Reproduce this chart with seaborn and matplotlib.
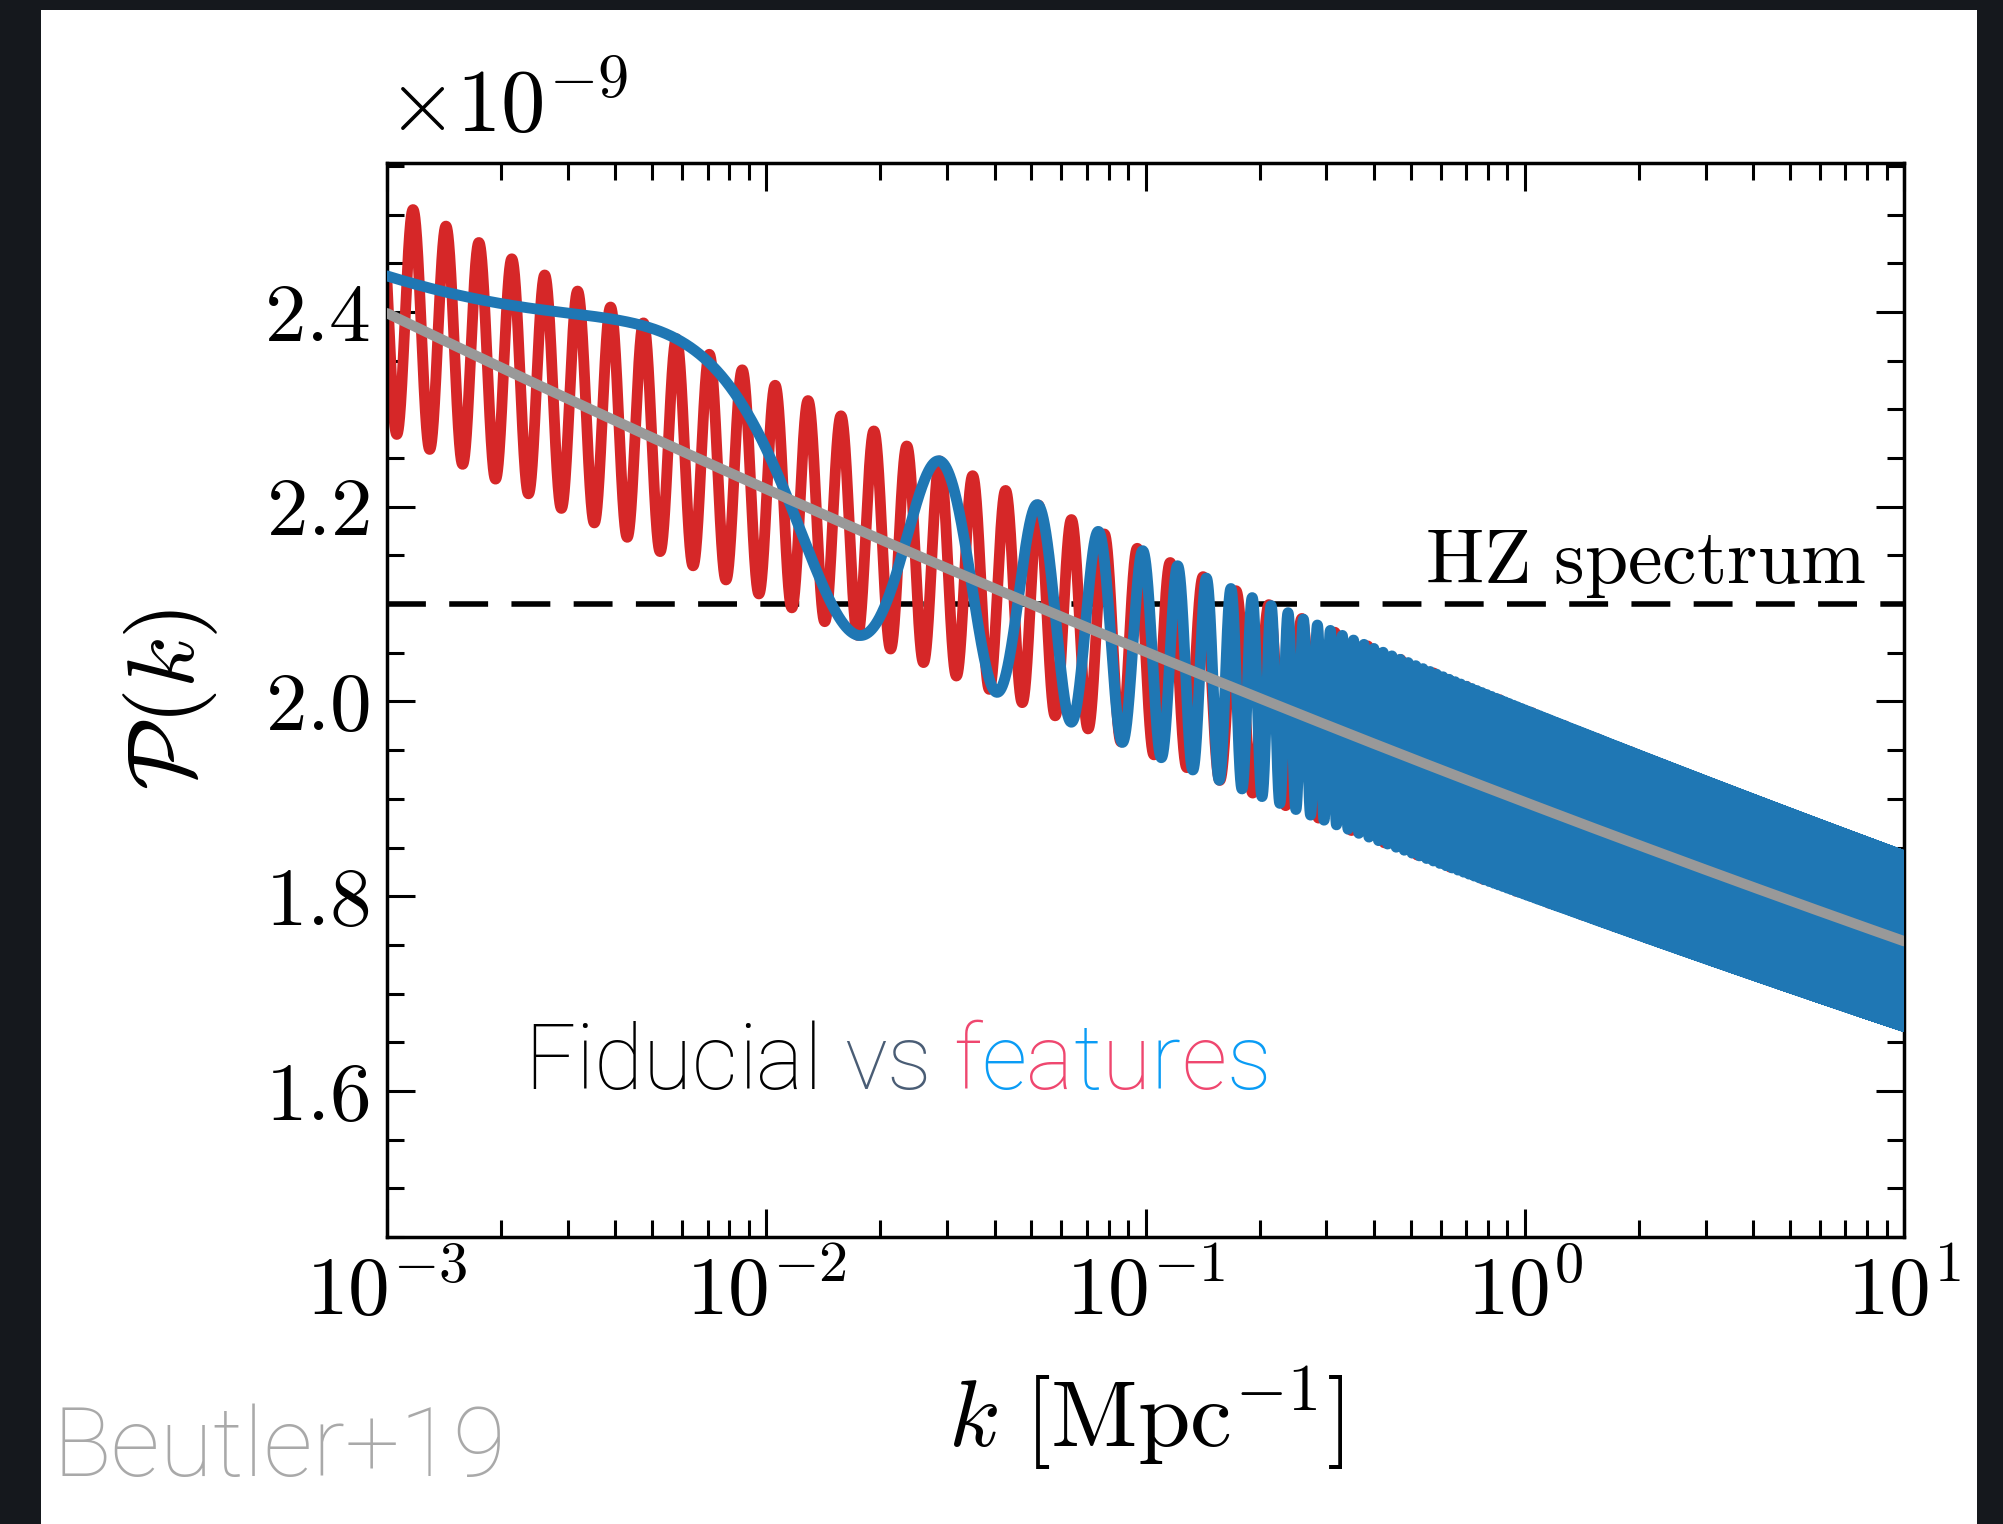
import numpy as np
import matplotlib
matplotlib.use("Agg")
import matplotlib.pyplot as plt
import matplotlib.ticker as mticker
from matplotlib.patches import Rectangle
from matplotlib.font_manager import FontProperties
import seaborn as sns

# values
k_range = [1e-3, 1e1]
A_s = 2.1e-9           # fiducial amplitude at the pivot
k_pivot = 0.05
n_s = 0.966
feature_amp = 0.05     # relative amplitude of both feature models
log_peak_k = 1.172e-3  # first crest of the log-oscillation (red)
log_period_dex = 0.0868
lin_peak_k = 0.0288    # a crest of the linear oscillation (blue)
lin_period_k = 0.0232
hz_level = 2.1e-9

x_ticks = [1e-3, 1e-2, 1e-1, 1e0, 1e1]
y_ticks = [1.6e-9, 1.8e-9, 2.0e-9, 2.2e-9, 2.4e-9]
y_lim = [1.45e-9, 2.553e-9]

title_text = "Fiducial vs features"
pink, sky, slate = "#ef476f", "#0a9cf5", "#4a5d75"
title_colors = (["black"] * 8 + [None] + [slate] * 2 + [None]
                + [pink, sky] * 4)

sns.set_style("ticks")
plt.rcParams['font.family'] = 'serif'
plt.rcParams['font.serif'] = ['cmr10']
plt.rcParams['mathtext.fontset'] = 'cm'
plt.rcParams['axes.formatter.use_mathtext'] = True
for key in ['text.color', 'axes.labelcolor', 'xtick.color', 'ytick.color']:
    plt.rcParams[key] = 'black'

W, H = 2003, 1524
fig = plt.figure(figsize=(W / 200, H / 200), dpi=200, facecolor="#15181d")
fig.patches.append(Rectangle((41 / W, 0), (1977 - 41) / W, (H - 10) / H,
                             transform=fig.transFigure, facecolor="white",
                             edgecolor="none", zorder=-10))

ax = fig.add_axes([387 / W, 1 - 1237 / H, (1904 - 387) / W, (1237 - 163) / H])
ax.set_facecolor("white")

k = np.unique(np.concatenate([np.logspace(-3, 1, 8000),
                              np.linspace(k_range[0], k_range[1], 80000)]))
p_fid = A_s * (k / k_pivot) ** (n_s - 1)
p_log = p_fid * (1 + feature_amp * np.cos(2 * np.pi * (np.log10(k) - np.log10(log_peak_k)) / log_period_dex))
p_lin = p_fid * (1 + feature_amp * np.cos(2 * np.pi * (k - lin_peak_k) / lin_period_k))

ax.axhline(hz_level, color="black", lw=2.0, linestyle=(0, (7, 4.2)), zorder=1)
sns.lineplot(x=k, y=p_log, color="#d62728", lw=3.9, ax=ax, estimator=None, sort=False, zorder=2)
sns.lineplot(x=k, y=p_lin, color="#1f77b4", lw=3.9, ax=ax, estimator=None, sort=False, zorder=3)
sns.lineplot(x=k, y=p_fid, color="#999999", lw=3.7, ax=ax, estimator=None, sort=False, zorder=4)

ax.set_xscale("log")
ax.set_xlim(k_range)
ax.set_ylim(y_lim)
ax.set_xticks(x_ticks)
ax.set_yticks(y_ticks)
ax.yaxis.set_minor_locator(mticker.MultipleLocator(0.05e-9))
ax.yaxis.set_major_formatter(mticker.ScalarFormatter(useMathText=True))

for s in ax.spines.values():
    s.set_linewidth(1.25)
    s.set_color("black")
ax.tick_params(which="both", direction="in", top=True, right=True, width=1.1, color="black")
ax.tick_params(which="major", length=10, labelsize=30, pad=6)
ax.tick_params(which="minor", length=6)
ax.yaxis.get_offset_text().set_fontsize(32)
ax.yaxis.OFFSETTEXTPAD = 11

ax.set_xlabel(r"$k\ [\mathrm{Mpc}^{-1}]$", fontsize=34, labelpad=12)
ax.set_ylabel(r"$\mathcal{P}(k)$", fontsize=34, labelpad=16)

ax.text(7.94, 2.122e-9, r"$\mathrm{HZ\ spectrum}$", fontsize=28, ha="right", va="baseline")

# multi-coloured caption, letters placed from measured prefix widths
prop = FontProperties(family="Roboto", weight="light", size=32.3)
renderer = fig.canvas.get_renderer()
x0, base = 524, 1 - 1089 / H
for i, (ch, col) in enumerate(zip(title_text, title_colors)):
    if ch == " ":
        continue
    w, _, _ = renderer.get_text_width_height_descent(title_text[:i + 1], prop, ismath=False)
    fig.text((x0 + w) / W, base, ch, ha="right", va="baseline", color=col, fontproperties=prop)

fig.text(53 / W, 1 - 1476 / H, "Beutler+19", color="#a9a9a9", ha="left", va="baseline",
         fontproperties=FontProperties(family="Roboto", weight="light", size=35))

fig.savefig("out.png", dpi=200, facecolor=fig.get_facecolor())
